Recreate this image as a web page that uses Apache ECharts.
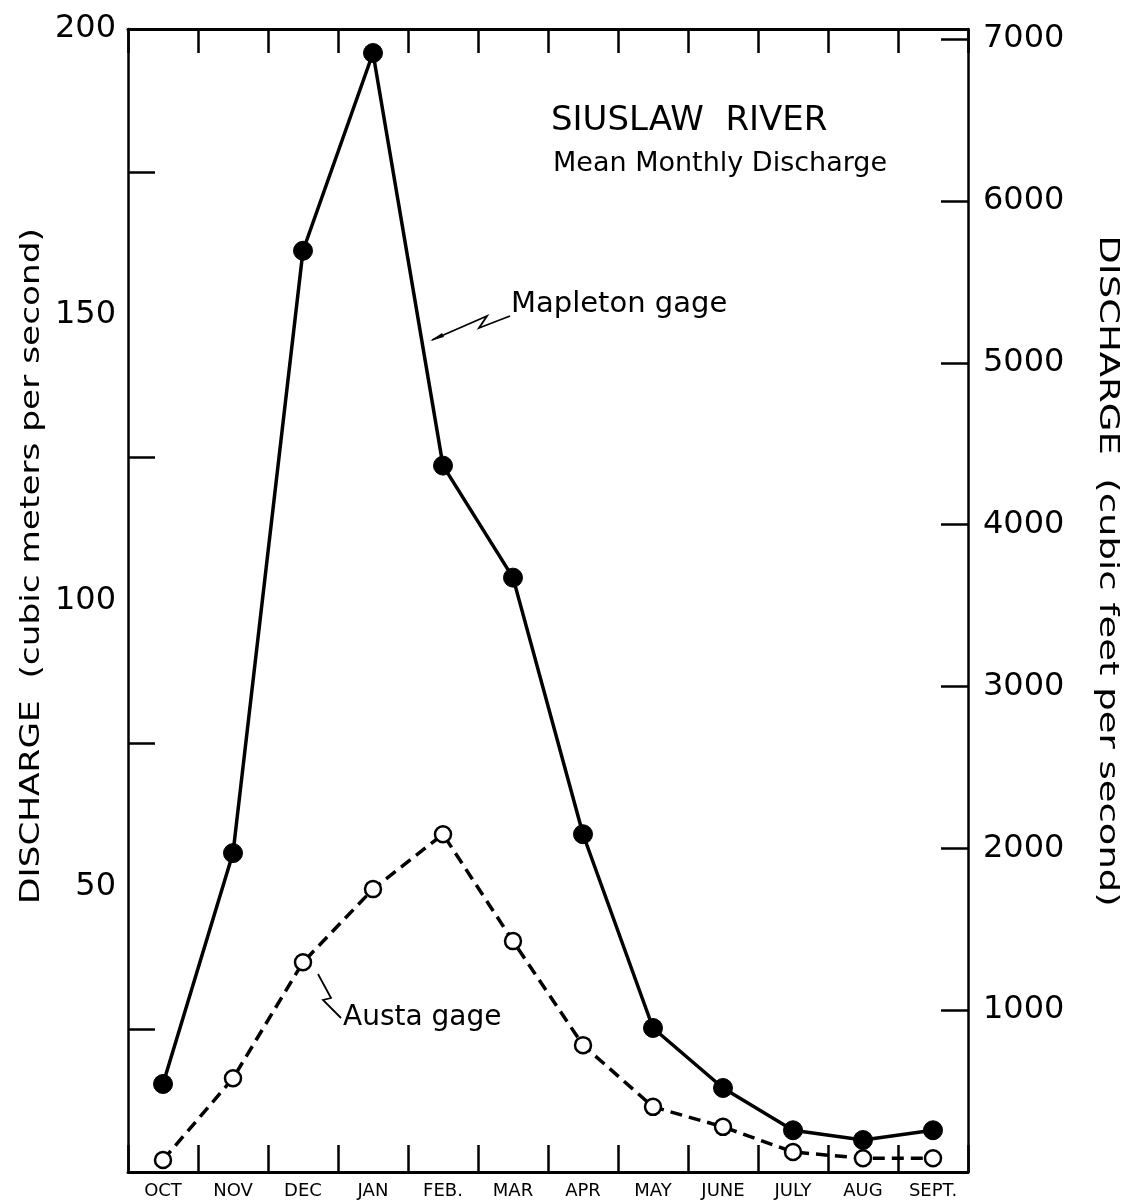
<!DOCTYPE html>
<html>
<head>
<meta charset="utf-8">
<script src="https://cdn.jsdelivr.net/npm/echarts@6/dist/echarts.min.js"></script>
<style>
html,body{margin:0;padding:0;background:#fff;}
#chart{width:1129px;height:1204px;}
</style>
</head>
<body>
<div id="chart"></div>
<script>
// Months (water year)
const months = ['OCT','NOV','DEC','JAN','FEB.','MAR','APR','MAY','JUNE','JULY','AUG','SEPT.'];
// Mean monthly discharge, cubic meters per second
const mapleton = [15.4, 55.8, 161.2, 195.8, 123.6, 104.0, 59.1, 25.2, 14.7, 7.3, 5.6, 7.3];
const austa    = [2.1, 16.4, 36.7, 49.5, 59.1, 40.4, 22.2, 11.4, 7.9, 3.5, 2.4, 2.4];
// Axis ranges
const cmsMax = 200;
const cfsPerCms = 1 / 0.0283168;
const cfsMax = cmsMax * cfsPerCms;

const FONT = '"DejaVu Sans", sans-serif';
const chart = echarts.init(document.getElementById('chart'), null, {renderer: 'canvas'});

const option = {
  backgroundColor: '#fff',
  animation: false,
  grid: {left: 128, right: 161, top: 29, bottom: 32, containLabel: false},
  xAxis: [
    {
      type: 'category', data: months, position: 'bottom', boundaryGap: true,
      axisLine: {onZero: false, lineStyle: {color: '#000', width: 3}},
      axisTick: {show: true, inside: true, length: 27, lineStyle: {color: '#000', width: 2.5}},
      axisLabel: {color: '#000', fontFamily: FONT, fontSize: 18, margin: 10},
      splitLine: {show: false}
    },
    {
      type: 'category', data: months, position: 'top', boundaryGap: true,
      axisLine: {onZero: false, lineStyle: {color: '#000', width: 3}},
      axisTick: {show: true, inside: true, length: 24, lineStyle: {color: '#000', width: 2.5}},
      axisLabel: {show: false},
      splitLine: {show: false}
    }
  ],
  yAxis: [
    {
      type: 'value', min: 0, max: cmsMax, interval: 50, position: 'left',
      axisLine: {show: true, onZero: false, lineStyle: {color: '#000', width: 2.5}},
      axisTick: {show: false, inside: true},
      minorTick: {show: true, splitNumber: 2, length: 27, lineStyle: {color: '#000', width: 2.5}},
      axisLabel: {color: '#000', fontFamily: FONT, fontSize: 32, margin: 12,
        formatter: v => v === 0 ? '' : String(v)},
      splitLine: {show: false}
    },
    {
      type: 'value', min: 0, max: cfsMax, interval: 1000, position: 'right',
      axisLine: {show: true, onZero: false, lineStyle: {color: '#000', width: 2.5}},
      axisTick: {show: true, inside: true, length: 27, lineStyle: {color: '#000', width: 2.5}},
      axisLabel: {color: '#000', fontFamily: FONT, fontSize: 32, margin: 15,
        formatter: v => (v === 0 || v % 1000 !== 0) ? '' : String(v)},
      splitLine: {show: false}
    }
  ],
  series: [
    {
      name: 'Mapleton gage', type: 'line', xAxisIndex: 0, yAxisIndex: 0, data: mapleton,
      symbol: 'circle', symbolSize: 19,
      lineStyle: {color: '#000', width: 3.5},
      itemStyle: {color: '#000', borderColor: '#000', borderWidth: 1},
      z: 3
    },
    {
      name: 'Austa gage', type: 'line', xAxisIndex: 0, yAxisIndex: 0, data: austa,
      symbol: 'circle', symbolSize: 16,
      lineStyle: {color: '#000', width: 3.5, type: [12, 7]},
      itemStyle: {color: '#fff', borderColor: '#000', borderWidth: 2.5},
      z: 3
    }
  ],
  graphic: [
    {type: 'text', left: 551, top: 104, style: {text: 'SIUSLAW  RIVER', font: '34px ' + FONT, fill: '#000'}},
    {type: 'text', left: 553, top: 150, style: {text: 'Mean Monthly Discharge', font: '27px ' + FONT, fill: '#000'}},
    {type: 'text', left: 511, top: 290, style: {text: 'Mapleton gage', font: '29px ' + FONT, fill: '#000'}},
    {type: 'text', left: 343, top: 1004, style: {text: 'Austa gage', font: '28px ' + FONT, fill: '#000'}},
    {type: 'polyline', shape: {points: [[432, 340], [487, 316], [479, 328], [510, 316]]},
      style: {stroke: '#000', lineWidth: 1.8, fill: null}},
    {type: 'polygon', shape: {points: [[430, 341], [442, 333], [444, 337]]}, style: {fill: '#000'}},
    {type: 'polyline', shape: {points: [[318, 974], [331, 998], [323, 1000], [341, 1018]]},
      style: {stroke: '#000', lineWidth: 1.8, fill: null}},
    {type: 'text', x: 32, y: 566, rotation: Math.PI / 2, scaleX: 1.27,
      style: {text: 'DISCHARGE  (cubic meters per second)', font: '27px ' + FONT, fill: '#000',
        textAlign: 'center', textVerticalAlign: 'middle'}},
    {type: 'text', x: 1107, y: 571, rotation: -Math.PI / 2, scaleX: 1.37,
      style: {text: 'DISCHARGE  (cubic feet per second)', font: '27px ' + FONT, fill: '#000',
        textAlign: 'center', textVerticalAlign: 'middle'}}
  ]
};
chart.setOption(option);
</script>
</body>
</html>
